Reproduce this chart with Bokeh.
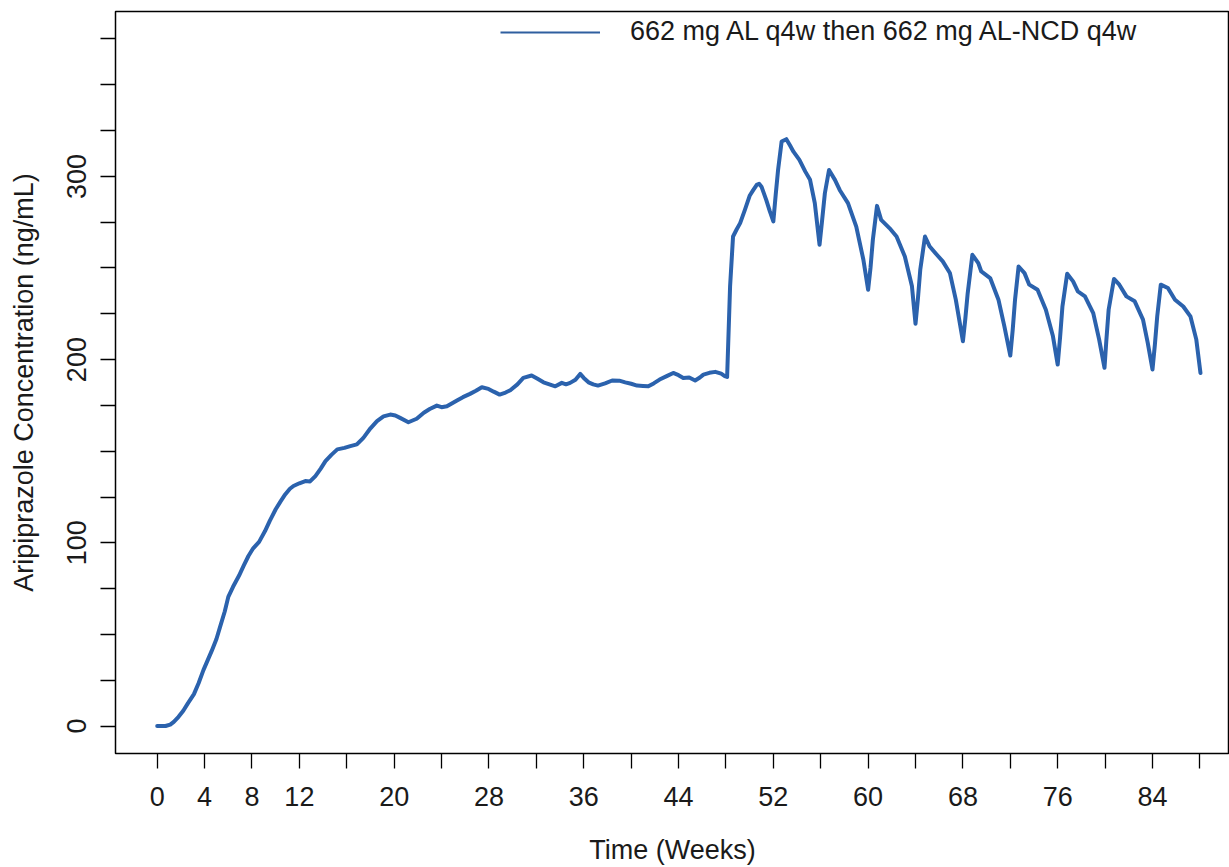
from bokeh.plotting import figure
from bokeh.models import Range1d, FixedTicker, Legend, LegendItem
from bokeh.embed import file_html
from bokeh.resources import INLINE

# Median aripiprazole concentration over time
weeks = [
    0, 0.7, 1.1, 1.4, 1.8, 2.2, 2.6, 3.1, 3.5, 3.9, 4.3, 4.6, 5.0, 5.3, 5.7,
    6.0, 6.4, 6.9, 7.3, 7.7, 8.1, 8.6, 9.1, 9.5, 10.0, 10.4, 10.8, 11.2, 11.5,
    12.0, 12.5, 12.9, 13.35, 13.8, 14.2, 14.7, 15.2, 15.8, 16.3, 16.85, 17.4,
    18.0, 18.55, 19.1, 19.67, 20.1, 20.5, 21.2, 21.9, 22.5, 23.0, 23.6, 24.0,
    24.45, 25.3, 25.8, 26.4, 26.9, 27.4, 27.96, 28.4, 28.9, 29.4, 29.8, 30.4,
    30.9, 31.6, 32.1, 32.6, 33.1, 33.6, 34.15, 34.5, 34.85, 35.3, 35.7, 36.0,
    36.4, 36.8, 37.2, 37.8, 38.4, 39.0, 39.5, 40.0, 40.5, 41.0, 41.45, 41.9,
    42.4, 43.0, 43.55, 44.0, 44.4, 44.9, 45.4, 45.8, 46.1, 46.6, 47.1, 47.6,
    47.9, 48.1, 48.35, 48.6, 48.9, 49.2, 49.6, 50.0, 50.3, 50.6, 50.8, 51.0,
    51.4, 51.7, 52.0, 52.2, 52.4, 52.7, 53.1, 53.4, 53.7, 54.2, 54.7, 55.1,
    55.5, 55.9, 56.1, 56.35, 56.7, 57.2, 57.6, 58.3, 59.0, 59.6, 60.0, 60.2,
    60.4, 60.75, 61.1, 61.8, 62.4, 63.1, 63.7, 64.0, 64.2, 64.4, 64.8, 65.2,
    65.8, 66.3, 66.9, 67.4, 68.0, 68.2, 68.4, 68.8, 69.3, 69.55, 70.3, 71.0,
    71.5, 72.0, 72.2, 72.4, 72.7, 73.2, 73.6, 74.3, 75.0, 75.6, 76.0, 76.2,
    76.4, 76.8, 77.3, 77.7, 78.3, 79.0, 79.5, 79.95, 80.1, 80.3, 80.75, 81.2,
    81.8, 82.5, 83.2, 83.6, 84.0, 84.2, 84.4, 84.7, 85.3, 85.9, 86.6, 87.2,
    87.7, 88.05,
]
conc = [
    0, 0, 0.8, 2.3, 5, 8.3, 12.5, 17.4, 23.5, 30.5, 36.5, 41, 47.5, 54, 62.5,
    70.5, 76, 82, 87.5, 92.8, 97, 100.5, 106.4, 112, 118.3, 122.5, 126.4, 129.5, 131,
    132.5, 133.7, 133.5, 136.4, 140.5, 144.6, 148, 151, 151.8, 152.8, 153.7, 157.3,
    162.5, 166.4, 169, 170, 169.5, 168.2, 165.8, 167.7, 171, 173, 174.9, 174,
    174.5, 177.7, 179.5, 181.3, 183, 184.9, 184, 182.5, 180.9, 182, 183.3, 186.5,
    190, 191.3, 189.5, 187.6, 186.5, 185.4, 187.3, 186.5, 187.3, 189, 192.2, 190,
    187.6, 186.5, 185.8, 187, 188.6, 188.5, 187.6, 186.8, 185.8, 185.6, 185.4, 187,
    189.1, 191, 192.7, 191.5, 190, 190.2, 188.6, 190.2, 191.8, 192.8, 193.3, 192.3,
    191, 190.5, 240, 267.2, 271, 274.5, 281.7, 289.4, 292.5, 295.4, 296, 294.4,
    287.2, 281, 275.4, 290, 303.5, 319, 320.3, 317, 313.5, 309, 302.6, 298.1,
    285.4, 262.7, 275, 290.8, 303.5, 298.1, 292.6, 285.4, 272.6, 254.5, 238.1, 250,
    265.4, 283.9, 276.3, 271.8, 267.2, 256.3, 240, 219.6, 233, 249, 267.2, 261.7,
    257.2, 253.6, 247.3, 232.7, 210, 222, 236, 257.2, 252.7, 248.1, 244.5, 232.7,
    218.1, 202.2, 216, 232.7, 250.8, 247.2, 240.9, 238.1, 227.2, 212.7, 197.3, 212,
    229, 246.9, 242.7, 237.2, 234.5, 225.4, 210.9, 195.5, 210, 227.2, 244, 240.9,
    234.5, 231.8, 221.8, 209.1, 194.6, 208, 223.6, 240.9, 239.1, 232.7, 229, 223.6,
    210.9, 192.7,
]

x_ticks = list(range(0, 89, 4))
x_tick_labels = {t: (str(t) if t in (0, 4, 8, 12, 20, 28, 36, 44, 52, 60, 68, 76, 84) else "")
                 for t in x_ticks}
y_ticks = list(range(0, 376, 25))
y_tick_labels = {t: (str(t) if t % 100 == 0 else "") for t in y_ticks}

series_label = "662 mg AL q4w then 662 mg AL-NCD q4w"

FONT = "Liberation Sans"
TEXT = "#1a1a1a"
BLUE = "#2B62AD"
FS = "27px"

p = figure(
    width=1229, height=867,
    x_range=Range1d(-3.52, 90.5), y_range=Range1d(-15, 390),
    output_backend="svg", toolbar_location=None,
    min_border_left=115, min_border_right=0,
    min_border_top=11, min_border_bottom=113,
)
p.background_fill_color = "white"
p.border_fill_color = "white"
p.outline_line_color = "black"
p.outline_line_width = 1.5
p.xgrid.visible = False
p.ygrid.visible = False

for ax in (p.xaxis[0], p.yaxis[0]):
    ax.axis_line_color = None
    ax.major_tick_in = 0
    ax.major_tick_out = 15
    ax.major_tick_line_color = "black"
    ax.major_tick_line_width = 1.3
    ax.minor_tick_line_color = None
    ax.major_label_text_font = FONT
    ax.major_label_text_font_size = FS
    ax.major_label_text_color = TEXT
    ax.axis_label_text_font = FONT
    ax.axis_label_text_font_size = FS
    ax.axis_label_text_font_style = "normal"
    ax.axis_label_text_color = TEXT

p.xaxis.ticker = FixedTicker(ticks=x_ticks)
p.xaxis.major_label_overrides = x_tick_labels
p.xaxis.major_label_standoff = 18
p.xaxis.axis_label = "Time (Weeks)"
p.xaxis.axis_label_standoff = 26

p.yaxis.ticker = FixedTicker(ticks=y_ticks)
p.yaxis.major_label_overrides = y_tick_labels
p.yaxis.major_label_orientation = "parallel"
p.yaxis.major_label_standoff = 14
p.yaxis.axis_label = "Aripiprazole Concentration (ng/mL)"
p.yaxis.axis_label_standoff = 26

p.line(weeks, conc, line_color=BLUE, line_width=4, line_join="round", line_cap="round")

# thinner line used only as the legend key (a single point draws nothing on the plot)
key = p.line([weeks[0]], [conc[0]], line_color="#2F5F9F", line_width=2, line_cap="butt")
legend = Legend(
    items=[LegendItem(label=series_label, renderers=[key])],
    location=(385, 706),
    glyph_width=100, glyph_height=30, label_height=30,
    label_standoff=30, padding=0, margin=0, spacing=0,
    border_line_color=None, background_fill_alpha=0,
    label_text_font=FONT, label_text_font_size=FS, label_text_color=TEXT,
)
p.add_layout(legend)

open("out.html", "w").write(file_html(p, INLINE))
